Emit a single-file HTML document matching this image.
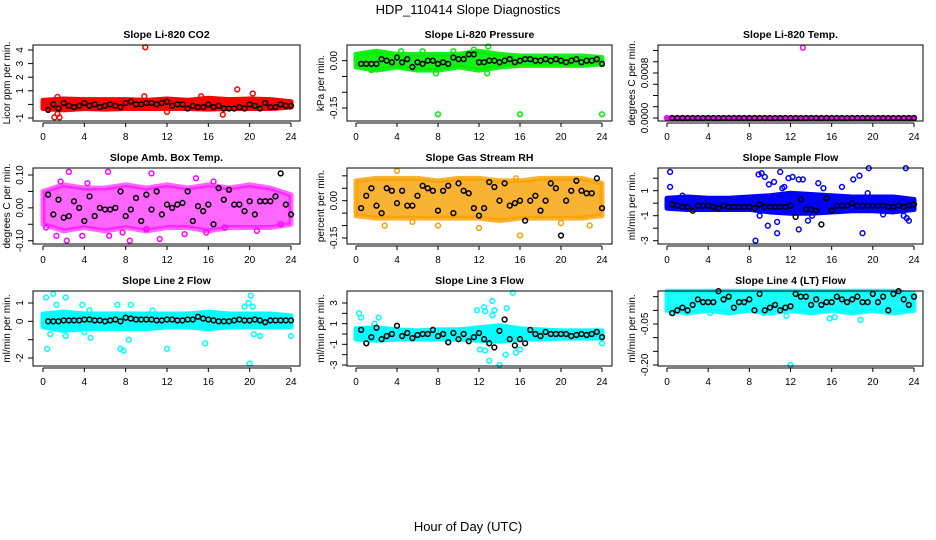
<!DOCTYPE html>
<html><head><meta charset="utf-8"><style>
html,body{margin:0;padding:0;background:#fff}
svg{display:block;font-family:"Liberation Sans",sans-serif}
</style></head><body>
<svg id="chart" width="936" height="540" viewBox="0 0 936 540" xmlns="http://www.w3.org/2000/svg">
<text x="468" y="14" font-size="13" text-anchor="middle">HDP_110414  Slope Diagnostics</text>
<text x="468" y="531" font-size="13" text-anchor="middle">Hour of Day (UTC)</text>
</svg>
<script>
const xTicks=[0,4,8,12,16,20,24];
const blkH=[0.5,1,1.5,2,2.5,3,3.5,4,4.5,5,5.5,6,6.5,7,7.5,8,8.5,9,9.5,10,10.5,11,11.5,12,12.5,13,13.5,14,14.5,15,15.5,16,16.5,17,17.5,18,18.5,19,19.5,20,20.5,21,21.5,22,22.5,23,23.5,24];
const envH=[0,2,4,6,8,10,12,14,16,18,20,22,24];
// CO2
const p1Blk=[-0.4,0,-0.3,0.1,-0.1,-0.2,-0.1,0.1,-0.1,0,-0.2,-0.1,0,-0.1,-0.2,0.1,0.2,0,0,0.1,0.1,0,0.1,0.2,-0.1,0,0,-0.3,-0.1,-0.2,-0.2,0,-0.2,-0.1,-0.3,-0.3,-0.3,-0.2,-0.3,0,-0.1,-0.3,0.1,-0.2,-0.2,0,-0.1,-0.1];
const p1Hi=[0.3,0.4,0.35,0.35,0.35,0.3,0.4,0.3,0.45,0.35,0.4,0.35,0.2];
const p1Lo=[-0.3,-0.4,-0.3,-0.35,-0.3,-0.3,-0.3,-0.3,-0.35,-0.3,-0.3,-0.3,-0.2];
const p1OH=[9.9,1.1,1.6,1.4,18.8,20.3,17.4,12,1.4,9.8,15.3];
const p1OV=[4.2,-0.95,-0.95,-0.7,1.1,0.8,-0.75,-0.55,0.55,0.6,0.6];
// Pressure
const p2Blk=[-0.01,-0.01,-0.01,-0.01,0.005,0,-0.005,0.01,-0.005,0.005,-0.02,-0.005,-0.01,0,0,-0.01,-0.005,-0.01,0.01,0.005,0.005,0.02,0.02,-0.005,-0.005,0,0,-0.005,0,0.005,-0.005,0,0.005,0.005,0,0,0.005,0,0.005,0,-0.005,0,0.005,-0.005,0,0,0.005,-0.01];
const p2Hi=[0.02,0.03,0.02,0.02,0.02,0.02,0.03,0.02,0.015,0.015,0.015,0.015,0.01];
const p2Lo=[-0.02,-0.03,-0.02,-0.03,-0.03,-0.02,-0.03,-0.02,-0.015,-0.015,-0.015,-0.015,-0.01];
const p2OH=[8,16,24,4.4,7.8,12.8,1.5,6.5,11.5,12.9,2.2,9.5];
const p2OV=[-0.17,-0.17,-0.17,0.03,-0.04,-0.04,-0.03,0.03,0.035,0.045,0.02,0.03];
// Li-820 Temp
const p3Blk=[0,0,0,0,0,0,0,0,0,0,0,0,0,0,0,0,0,0,0,0,0,0,0,0,0,0,0,0,0,0,0,0,0,0,0,0,0,0,0,0,0,0,0,0,0,0,0,0];
const p3Hi=[0,0,0,0,0,0,0,0,0,0,0,0,0];
const p3Lo=[0,0,0,0,0,0,0,0,0,0,0,0,0];
const p3OH=[13.2,0];
const p3OV=[0.00125,0];
// Amb box temp
const p4Blk=[0.04,-0.02,0.025,-0.03,-0.025,0.02,0.0,-0.04,0.035,-0.025,0.0,-0.005,-0.005,0.0,0.05,-0.025,-0.005,0.03,-0.04,0.04,-0.005,0.05,-0.02,0.01,0.0,0.01,0.015,0.05,-0.04,0.005,-0.01,0.01,-0.05,0.06,0.025,0.055,0.01,0.01,-0.01,0.02,-0.02,0.02,0.02,0.02,0.035,0.105,0.01,-0.02];
const p4Hi=[0.05,0.07,0.06,0.06,0.07,0.06,0.07,0.06,0.07,0.06,0.07,0.06,0.04];
const p4Lo=[-0.05,-0.07,-0.06,-0.07,-0.06,-0.07,-0.06,-0.06,-0.07,-0.06,-0.06,-0.06,-0.05];
const p4OH=[0.3,1.3,2.3,3.8,6.4,7.7,8.4,10,11.3,13.7,15.8,17.6,20.7,23,2.5,1.7,6.3,16.5,10.5,14.8,4.3];
const p4OV=[-0.06,-0.085,-0.1,-0.085,-0.085,-0.075,-0.1,-0.065,-0.095,-0.08,-0.075,-0.06,-0.07,-0.05,0.11,0.08,0.11,0.08,0.105,0.09,0.075];
// Gas stream RH
const p5Blk=[-0.03,0.02,0.05,-0.02,-0.05,0.05,0.04,-0.01,0.04,-0.02,-0.02,0.02,0.06,0.05,0.04,-0.04,0.04,0.06,-0.05,0.07,0.04,0.03,-0.03,-0.06,-0.03,0.075,0.055,0.0,0.07,-0.02,-0.01,0.0,-0.08,0.0,0.02,-0.04,0.0,0.07,0.05,-0.14,0.0,0.04,0.08,0.04,0.03,0.03,0.09,-0.03];
const p5Hi=[0.08,0.09,0.09,0.09,0.08,0.09,0.09,0.08,0.08,0.09,0.09,0.09,0.07];
const p5Lo=[-0.06,-0.07,-0.07,-0.07,-0.07,-0.07,-0.07,-0.08,-0.07,-0.07,-0.07,-0.07,-0.06];
const p5OH=[4,16,8,2.8,12,5.5,20,22.8,15.6];
const p5OV=[0.12,-0.14,-0.1,-0.1,-0.11,-0.085,-0.09,-0.1,0.09];
// Sample flow
const p6Blk=[-0.1,-0.2,-0.3,-0.3,-0.6,-0.2,-0.2,-0.2,-0.3,-0.4,-0.2,-0.3,-0.3,-0.3,-0.3,-0.3,-0.4,-0.1,-0.3,-0.3,-0.3,-0.3,-0.3,-0.2,-1.1,0.3,-0.5,-0.5,-0.6,-1.7,0.4,-0.6,-0.2,-0.2,-0.2,0.0,-0.2,-0.2,-0.2,-0.2,-0.2,-0.2,-0.3,-0.3,-0.2,-0.3,-0.2,-0.1];
const p6Hi=[0.4,0.5,0.4,0.4,0.5,0.6,0.8,0.7,0.6,0.5,0.5,0.5,0.3];
const p6Lo=[-0.4,-0.5,-0.5,-0.5,-0.5,-0.7,-0.8,-0.8,-0.7,-0.6,-0.6,-0.7,-0.5];
const p6OH=[0.3,0.3,8.6,8.9,9.2,9.5,9.9,10.4,11,11.2,11.4,11.8,12.2,12.8,13.2,14.7,15.2,17,18.1,18.7,19.5,19.6,23.2,23.3,23.5,9.8,10.7,12.8,13.7,14.1,19,19.2,21,23,1.5,9,10.7,11.9];
const p6OV=[2.5,1.3,-3,2.3,2.4,2.1,1.5,1.7,2.5,1.2,1.3,2.0,2.1,1.9,1.9,1.6,1.2,1.3,1.9,2.2,0.8,2.8,2.8,-1.2,-1.4,-1.8,-2.4,-2.1,-1.4,-1.0,-2.4,-0.5,-0.9,-1.0,0.6,-1.0,-1.5,-0.6];
// Line 2
const p7Blk=[0.0,0.0,0.0,0.05,0.05,0.05,0.05,0.1,0.1,0.05,0.05,0.0,0.05,0.1,0.0,0.2,0.15,0.1,0.1,0.1,0.1,0.05,0.05,0.1,0.1,0.05,0.05,0.1,0.1,0.25,0.15,0.1,0.05,0.0,0.0,0.0,0.05,0.1,0.05,0.05,0.1,0.05,-0.05,0.05,0.05,0.05,0.05,0.05];
const p7Hi=[0.4,0.5,0.4,0.4,0.4,0.4,0.4,0.4,0.5,0.4,0.4,0.4,0.3];
const p7Lo=[-0.3,-0.5,-0.4,-0.4,-0.4,-0.4,-0.3,-0.3,-0.4,-0.3,-0.3,-0.3,-0.3];
const p7OH=[0.4,0.3,1,1.3,2.2,2.2,0.7,3.8,4.6,7.2,7.5,7.8,8.3,8.5,12,15.7,19.5,20,20.1,20.3,19.9,21,24,4.5,4.0,1.4,10.6,20.4];
const p7OV=[-1.5,1.3,1.5,0.9,1.3,-0.8,-0.7,0.9,-0.9,0.9,-1.5,-1.6,-1.0,0.9,-1.5,-1.2,0.8,-2.3,1.4,0.8,1.0,-0.8,-0.8,0.6,-0.6,-0.4,0.6,-0.7];
// Line 3
const p8Blk=[0.4,-0.9,-0.3,0.6,-0.5,-0.2,0.0,0.8,-0.2,0.1,-0.4,-0.1,0.0,0.0,0.4,-0.2,0.0,-0.8,0.1,-0.5,0.0,-0.7,-0.3,0.1,-0.5,-0.9,-1.3,0.3,1.4,-0.5,-1.1,-0.5,-0.9,0.4,0.0,-0.2,0.2,0.0,0.0,0.0,0.0,-0.2,-0.1,0.0,-0.1,0.0,0.2,-0.3];
const p8Hi=[0.5,0.6,0.4,0.3,0.4,0.4,0.6,0.8,0.5,0.4,0.3,0.3,0.3];
const p8Lo=[-0.5,-0.6,-0.5,-0.5,-0.5,-0.5,-0.6,-0.7,-0.5,-0.5,-0.4,-0.4,-0.4];
const p8OH=[0.3,0.5,1.8,2.2,12.5,12.6,11.8,13.3,13.5,14,13.3,15.3,14.7,12.1,12.6,13,14.6,15.6,16,24];
const p8OV=[2.0,1.6,1.0,1.6,2.6,2.2,2.3,3.2,2.3,-3.0,1.8,4.0,2.5,-1.5,-1.6,-2.6,-2.0,-1.8,-1.5,-0.9];
// Line 4
const p9Blk=[-0.01,0.0,0.01,0.0,0.02,0.04,0.03,0.03,0.03,0.07,0.04,0.05,0.01,0.03,0.03,0.04,0.0,0.06,0.0,0.01,0.02,0.0,0.01,0.015,0.06,0.05,0.05,0.02,0.04,0.02,0.03,0.03,0.05,0.04,0.03,0.04,0.05,0.03,0.03,0.06,0.03,0.05,0.0,0.06,0.07,0.04,0.02,0.05];
const p9Hi=[0.07,0.07,0.07,0.07,0.07,0.07,0.07,0.07,0.07,0.07,0.07,0.07,0.06];
const p9Lo=[0.0,-0.01,0.0,-0.01,0.0,-0.01,0.0,-0.01,0.0,-0.01,0.0,-0.01,0.0];
const p9OH=[12,15.8,16.3,18.8,9.4,11.6,0.6,4.2];
const p9OV=[-0.2,-0.03,-0.025,-0.035,-0.01,-0.02,-0.01,-0.01];

const COLS=[{l:33,r:300,x0:43,x24:291},{l:347,r:612,x0:356,x24:602},{l:658,r:923,x0:667,x24:914}];
const ROWS=[{t:45,b:121},{t:168,b:244},{t:291,b:366}];
const panels=[
{n:'co2',title:'Slope Li-820 CO2',yl:'Licor ppm per min.',c:0,r:0,a:[4,50],b:[-1,118],ticks:[-1,0,1,2,3,4],labs:['-1','','1','2','3','4'],col:'#ff0000',op:1,blk:p1Blk,hi:p1Hi,lo:p1Lo,oh:p1OH,ov:p1OV},
{n:'pressure',title:'Slope Li-820 Pressure',yl:'kPa per min.',c:1,r:0,a:[0,60.7],b:[-0.15,108],ticks:[0,-0.05,-0.1,-0.15],labs:['0.00','','','-0.15'],col:'#00ee00',op:0.9,blk:p2Blk,hi:p2Hi,lo:p2Lo,oh:p2OH,ov:p2OV},
{n:'li820-temp',title:'Slope Li-820 Temp.',yl:'degrees C per min.',c:2,r:0,a:[0,118],b:[0.0008,73],ticks:[0,0.0002,0.0004,0.0006,0.0008,0.001,0.0012],labs:['0.0000','','','','0.0008','',''],col:'#ff00ff',op:1,blk:p3Blk,hi:p3Hi,lo:p3Lo,oh:p3OH,ov:p3OV},
{n:'amb-box-temp',title:'Slope Amb. Box Temp.',yl:'degrees C per min.',c:0,r:1,a:[0.1,175],b:[-0.1,240.7],ticks:[-0.1,-0.05,0,0.05,0.1],labs:['-0.10','','0.00','','0.10'],col:'#ff00ff',op:0.6,blk:p4Blk,hi:p4Hi,lo:p4Lo,oh:p4OH,ov:p4OV},
{n:'gas-stream-rh',title:'Slope Gas Stream RH',yl:'percent per min.',c:1,r:1,a:[0,200.7],b:[-0.15,238],ticks:[0.1,0.05,0,-0.05,-0.1,-0.15],labs:['','','0.00','','','-0.15'],col:'#f7a000',op:0.8,blk:p5Blk,hi:p5Hi,lo:p5Lo,oh:p5OH,ov:p5OV},
{n:'sample-flow',title:'Slope Sample Flow',yl:'ml/min per min.',c:2,r:1,a:[1,190.7],b:[-1,215.7],ticks:[2,1,0,-1,-2,-3],labs:['','1','','-1','','-3'],col:'#0000ff',op:1,blk:p6Blk,hi:p6Hi,lo:p6Lo,oh:p6OH,ov:p6OV},
{n:'line2-flow',title:'Slope Line 2 Flow',yl:'ml/min per min.',c:0,r:2,a:[1,303],b:[-2,358],ticks:[1,0,-1,-2],labs:['1','0','','-2'],col:'#00ffff',op:1,blk:p7Blk,hi:p7Hi,lo:p7Lo,oh:p7OH,ov:p7OV},
{n:'line3-flow',title:'Slope Line 3 Flow',yl:'ml/min per min.',c:1,r:2,a:[3,303],b:[-3,365],ticks:[3,2,1,0,-1,-2,-3],labs:['3','','1','','-1','','-3'],col:'#00ffff',op:1,blk:p8Blk,hi:p8Hi,lo:p8Lo,oh:p8OH,ov:p8OV},
{n:'line4-flow',title:'Slope Line 4 (LT) Flow',yl:'ml/min per min.',c:2,r:2,a:[-0.05,324],b:[-0.2,365],ticks:[0.05,0,-0.05,-0.1,-0.15,-0.2],labs:['','','-0.05','','','-0.20'],col:'#00ffff',op:0.9,blk:p9Blk,hi:p9Hi,lo:p9Lo,oh:p9OH,ov:p9OV}
];
const svg=document.getElementById('chart');
const NS='http://www.w3.org/2000/svg';
function mk(tag,attrs,parent){const e=document.createElementNS(NS,tag);for(const k in attrs)e.setAttribute(k,attrs[k]);(parent||svg).appendChild(e);return e;}
panels.forEach(p=>{
  const C=COLS[p.c],R=ROWS[p.r];
  const xs=h=>C.x0+(C.x24-C.x0)*h/24;
  const ys=v=>p.a[1]+(p.b[1]-p.a[1])*(v-p.a[0])/(p.b[0]-p.a[0]);
  const g=mk('g',{});
  
  
  const t=mk('text',{x:(C.l+C.r)/2,y:R.t-7,'font-size':10.5,'font-weight':'bold','text-anchor':'middle'},g);
  t.textContent=p.title;
  
  
  let pts=[];
  for(let i=0;i<envH.length;i++)pts.push(xs(envH[i])+','+ys(p.hi[i]));
  for(let i=envH.length-1;i>=0;i--)pts.push(xs(envH[i])+','+ys(p.lo[i]));
  const band=mk('polygon',{points:pts.join(' '),fill:p.col,'fill-opacity':p.op,stroke:p.col,'stroke-opacity':p.op,'stroke-width':5,'stroke-linejoin':'round'},g);
  
  
  for(let i=0;i<p.oh.length;i++){
    const c=mk('circle',{cx:xs(p.oh[i]),cy:ys(p.ov[i]),r:2.4,fill:'none',stroke:p.col,'stroke-width':1.5},g);
    
    
  }
  for(let i=0;i<p.blk.length;i++){
    const c=mk('circle',{cx:xs(blkH[i]),cy:ys(p.blk[i]),r:2.4,fill:'none',stroke:'#000','stroke-width':1.5},g);
    
    
  }
  const box=mk('rect',{x:C.l,y:R.t,width:C.r-C.l,height:R.b-R.t,fill:'none',stroke:'#000','stroke-width':1},g);
  
  
  const xa=mk('line',{x1:xs(0),x2:xs(24),y1:R.b+2,y2:R.b+2,stroke:'#000'},g);
  
  
  xTicks.forEach(v=>{
    mk('line',{x1:xs(v),x2:xs(v),y1:R.b+2,y2:R.b+6,stroke:'#000'},g);
    const l=mk('text',{x:xs(v),y:R.b+19,'font-size':10,'text-anchor':'middle'},g);
    l.textContent=v;
    
    
  });
  const yv=p.ticks.map(ys);
  const ya=mk('line',{x1:C.l,x2:C.l,y1:Math.min(...yv),y2:Math.max(...yv),stroke:'#000'},g);
  
  
  p.ticks.forEach((v,i)=>{
    const y=ys(v);
    mk('line',{x1:C.l-5,x2:C.l,y1:y,y2:y,stroke:'#000'},g);
    if(p.labs[i]){
      const l=mk('text',{x:C.l-10,y:y,'font-size':10,'text-anchor':'middle',transform:'rotate(-90 '+(C.l-10)+' '+y+')'},g);
      l.textContent=p.labs[i];
      
      
    }
  });
  const ym=(R.t+R.b)/2;
  const yl=mk('text',{x:C.l-23,y:ym,'font-size':10,'text-anchor':'middle',transform:'rotate(-90 '+(C.l-23)+' '+ym+')'},g);
  yl.textContent=p.yl;
  
  
});
</script>
</body></html>
